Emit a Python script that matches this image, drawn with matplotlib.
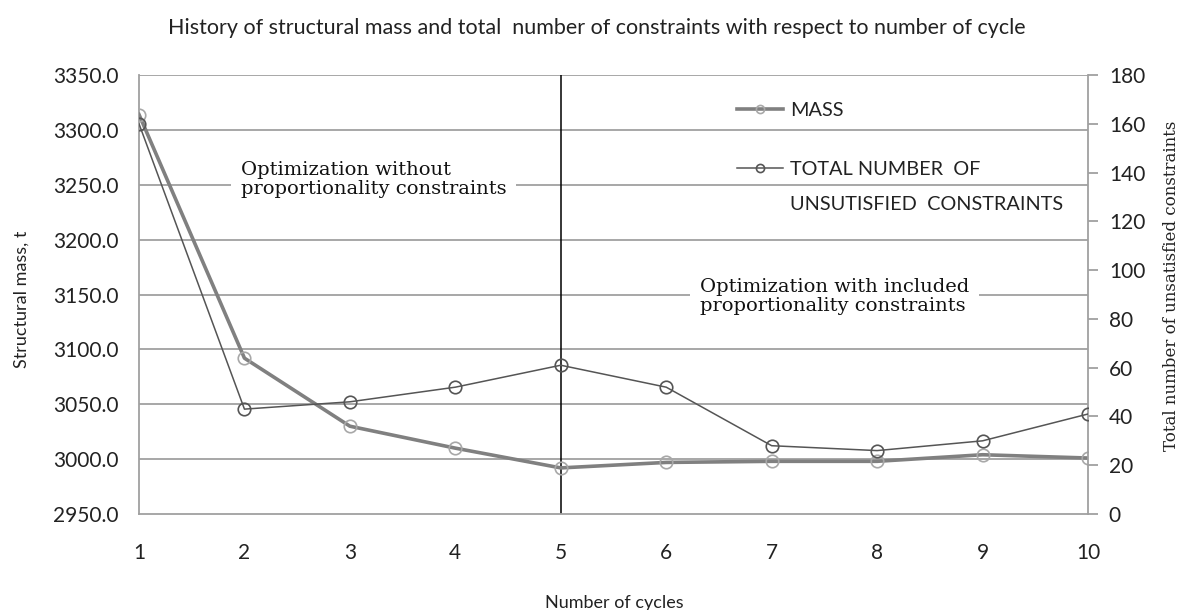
import matplotlib
matplotlib.use("Agg")
import matplotlib.pyplot as plt

cycles = [1, 2, 3, 4, 5, 6, 7, 8, 9, 10]
mass = [3314, 3092, 3030, 3010, 2992, 2997, 2998, 2998, 3004, 3001]
constraints = [160, 43, 46, 52, 61, 52, 28, 26, 30, 41]

mass_ticks = [2950, 3000, 3050, 3100, 3150, 3200, 3250, 3300, 3350]
cons_ticks = [0, 20, 40, 60, 80, 100, 120, 140, 160, 180]

sans = ["Lato", "DejaVu Sans"]
serif = ["DejaVu Serif"]

W, H = 1187, 610
fig = plt.figure(figsize=(W / 100, H / 100), dpi=100)
# plot area: x 139..1088 px, y 75..514 px
ax = fig.add_axes([139 / W, 1 - 514 / H, (1088 - 139) / W, (514 - 75) / H])
ax2 = ax.twinx()

# grid and divider
for t in mass_ticks[1:]:
    ax.axhline(t, color="#a0a0a0", lw=1.3, zorder=1)
ax.axvline(5, color="black", lw=1.1, zorder=2)

l1, = ax.plot(cycles, mass, color="#808080", lw=2.6, marker="o", ms=9,
              mfc="none", mec="#a8a8a8", mew=1.2, zorder=3, label="MASS")
l2, = ax2.plot(cycles, constraints, color="#555555", lw=1.1, marker="o", ms=9,
               mfc="none", mec="#555555", mew=1.2, zorder=3,
               label="TOTAL NUMBER  OF")

ax.set_xlim(1, 10)
ax.set_ylim(2950, 3350)
ax2.set_ylim(0, 180)
ax.set_xticks(cycles)
ax.set_yticks(mass_ticks)
ax.set_yticklabels([f"{t:.1f}" for t in mass_ticks])
ax2.set_yticks(cons_ticks)

for s in ["top", "right"]:
    ax.spines[s].set_visible(False)
for s in ["top", "left", "bottom"]:
    ax2.spines[s].set_visible(False)
ax.spines["left"].set_color("#a0a0a0")
ax.spines["bottom"].set_color("#a0a0a0")
ax2.spines["right"].set_color("#a0a0a0")
ax.spines["left"].set_linewidth(1.3)
ax.spines["bottom"].set_linewidth(1.3)
ax2.spines["right"].set_linewidth(1.3)

ax.tick_params(axis="y", length=0, labelsize=15, colors="#222222", pad=15)
ax.tick_params(axis="x", length=0, labelsize=15, colors="#222222", pad=21)
ax2.tick_params(axis="y", length=7, width=1.3, color="#a0a0a0", labelsize=15,
                labelcolor="#222222", pad=8)
for lab in ax.get_xticklabels() + ax.get_yticklabels() + ax2.get_yticklabels():
    lab.set_family(sans)

fig.text(614 / W, 1 - 603 / H, "Number of cycles", family=sans, fontsize=13,
         ha="center", va="center", color="#222222")
fig.text(22 / W, 1 - 299 / H, "Structural mass, t", family=sans, fontsize=13,
         rotation=90, ha="center", va="center", color="#222222")
fig.text(1172 / W, 1 - 286 / H, "Total number of unsatisfied constraints",
         family=serif, fontsize=12, rotation=90, ha="center", va="center",
         color="#222222")
fig.text(597 / W, 1 - 28 / H,
         "History of structural mass and total  number of constraints with respect to number of cycle",
         ha="center", va="center", family=sans, fontsize=15.5, color="#222222")

box = dict(facecolor="white", edgecolor="none", pad=7)
ax.text(1.968, 3255, "Optimization without\nproportionality constraints",
        family=serif, fontsize=14, va="center", ha="left",
        linespacing=1.05, bbox=box, zorder=4, color="#111111")
ax.text(6.32, 3148, "Optimization with included\nproportionality constraints",
        family=serif, fontsize=14, va="center", ha="left",
        linespacing=1.05, bbox=box, zorder=4, color="#111111")

leg = ax2.legend(handles=[l1, l2], loc="center left",
                 bbox_to_anchor=(737 / W, 1 - 140 / H),
                 bbox_transform=fig.transFigure, borderpad=0, borderaxespad=0,
                 frameon=False, prop={"family": sans, "size": 14.3},
                 handlelength=2.3, handletextpad=0.35, labelspacing=2.1,
                 markerscale=0.65)
for t in leg.get_texts():
    t.set_color("#222222")
fig.text(790 / W, 1 - 205 / H, "UNSUTISFIED  CONSTRAINTS", family=sans,
         fontsize=14.3, ha="left", va="center", color="#222222")

fig.savefig("out.png", dpi=100)
